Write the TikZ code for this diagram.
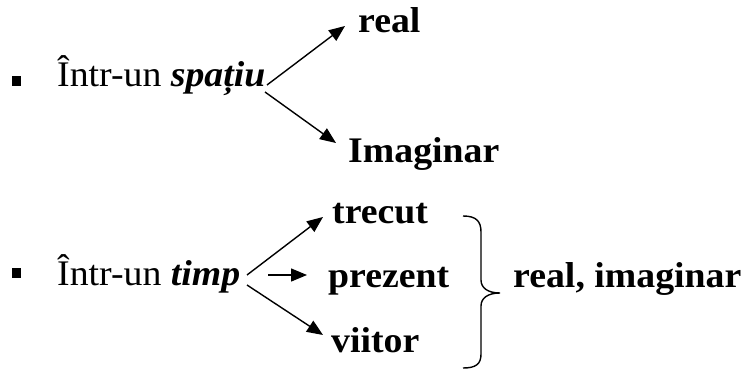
\documentclass[tikz,border=0pt]{standalone}
\usepackage{fontspec}
\setmainfont{Liberation Serif}[FakeStretch=1.05]
\usetikzlibrary{arrows.meta}
\begin{document}
\begin{tikzpicture}[x=1pt,y=-1pt,
  txt/.style={anchor=base west,inner sep=0pt,font=\fontsize{36}{42}\selectfont},
  btxt/.style={txt,font=\fontsize{36}{42}\selectfont\bfseries},
  bul/.style={fill=black,minimum size=9.5pt,inner sep=0pt},
  arr/.style={line width=1.4pt,-{Triangle[length=16pt,width=13pt]}},
  brc/.style={line width=1.4pt}]
\useasboundingbox (0,0) rectangle (744,369);
% row 1
\node[bul] (b1) at (16.5,81) {};
\node[txt] (sp) at (57,86) {Într-un \textbf{\textit{spațiu}}};
\node[btxt] (real) at (358,33) {real};
\node[btxt] (imag) at (348,162) {Imaginar};
\coordinate (s1) at (267,85);
\coordinate (s2) at (265,92);
\coordinate (t1) at (345,26);
\coordinate (t2) at (336,143);
\draw[arr] (s1) -- (t1);
\draw[arr] (s2) -- (t2);
% row 2
\node[bul] (b2) at (16.5,273) {};
\node[txt] (tp) at (57,285) {Într-un \textbf{\textit{timp}}};
\node[btxt] (trecut) at (332,223) {trecut};
\node[btxt] (prezent) at (328,287) {prezent};
\node[btxt] (viitor) at (331,352) {viitor};
\node[btxt] (ri) at (513,287) {real, imaginar};
\coordinate (u1) at (247,275);
\coordinate (u2) at (268,275);
\coordinate (u3) at (247,285);
\coordinate (v1) at (323,217);
\coordinate (v2) at (307,275);
\coordinate (v3) at (323,335);
\draw[arr] (u1) -- (v1);
\draw[arr] (u2) -- (v2);
\draw[arr] (u3) -- (v3);
% brace
\draw[brc] (463,216) .. controls (476,216) and (481,221) .. (481,232) -- (481,280)
  .. controls (481,288) and (488,293) .. (500,293)
  .. controls (488,293) and (481,298) .. (481,306) -- (481,354)
  .. controls (481,364) and (476,368) .. (463,368);
\end{tikzpicture}
\end{document}
